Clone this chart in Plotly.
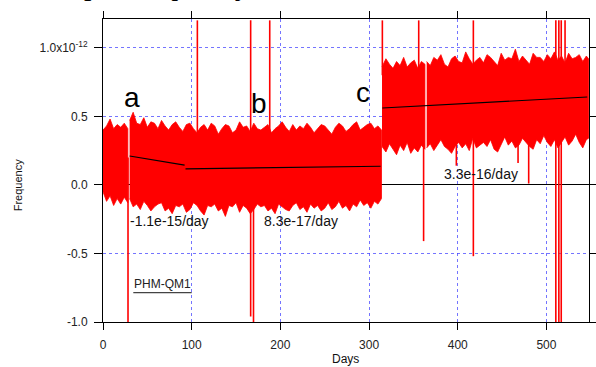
import plotly.graph_objects as go

SCALE = 1e-12  # all frequency values below are in units of 1e-12

# ---- noise band envelopes, split where data has gaps ----
A_days = [0, 4, 8, 12, 16, 20, 24, 28]
A_hi = [0.40, 0.43, 0.48, 0.41, 0.44, 0.42, 0.45, 0.41]
A_lo = [-0.05, -0.12, -0.08, -0.15, -0.10, -0.14, -0.09, -0.13]

B_days = [30, 34, 38, 42, 46, 50, 54, 58, 62, 66, 70, 74, 78, 82, 86, 90, 94, 98,
          102, 106, 110, 114, 118, 122, 126, 130, 134, 138, 142, 146, 150, 154, 158, 162,
          166, 170, 174, 178, 182, 186, 190, 194, 198, 202, 206, 210, 214, 218, 222, 226,
          230, 234, 238, 242, 246, 250, 254, 258, 262, 266, 270, 274, 278, 282, 286, 290,
          294, 298, 302, 306, 310, 314]
B_hi = [0.47, 0.53, 0.45, 0.44, 0.49, 0.42, 0.46, 0.45,
        0.41, 0.47, 0.43, 0.40, 0.44, 0.46, 0.42, 0.39,
        0.44, 0.45, 0.41, 0.38, 0.42, 0.44, 0.40, 0.45,
        0.43, 0.37, 0.41, 0.44, 0.43, 0.38, 0.40, 0.46,
        0.42, 0.43, 0.39, 0.45, 0.41, 0.40, 0.42, 0.44,
        0.38, 0.41, 0.43, 0.46, 0.42, 0.39, 0.44, 0.40,
        0.43, 0.41, 0.45, 0.42, 0.38, 0.41, 0.44, 0.43,
        0.40, 0.37, 0.42, 0.45, 0.43, 0.39, 0.41, 0.44,
        0.46, 0.40, 0.42, 0.44, 0.45, 0.41, 0.43, 0.40]
B_lo = [-0.10, -0.16, -0.14, -0.18, -0.12, -0.15, -0.19, -0.16,
        -0.14, -0.13, -0.19, -0.17, -0.21, -0.15, -0.16, -0.14,
        -0.20, -0.18, -0.13, -0.15, -0.19, -0.22, -0.15, -0.16,
        -0.14, -0.19, -0.17, -0.23, -0.15, -0.16, -0.13, -0.20,
        -0.15, -0.17, -0.21, -0.18, -0.14, -0.16, -0.15, -0.19,
        -0.17, -0.21, -0.14, -0.16, -0.18, -0.19, -0.15, -0.13,
        -0.18, -0.16, -0.20, -0.14, -0.17, -0.15, -0.19, -0.17,
        -0.13, -0.18, -0.16, -0.12, -0.17, -0.15, -0.19, -0.14,
        -0.16, -0.11, -0.15, -0.13, -0.17, -0.12, -0.14, -0.10]

C_days = [314.6, 319, 323, 327, 331, 335, 339, 343, 347, 351, 355, 359, 363]
C_hi = [0.86, 0.92, 0.88, 0.85, 0.90, 0.87, 0.93, 0.86, 0.89, 0.91, 0.85, 0.90, 0.88]
C_lo = [0.28, 0.24, 0.30, 0.26, 0.22, 0.29, 0.25, 0.31, 0.23, 0.27, 0.24, 0.29, 0.26]

D_days = [365, 369, 373, 377, 381, 385, 389, 393, 397, 401, 405, 409, 413, 417, 421, 425,
          429, 433, 437, 441, 445, 449, 453, 457, 461, 465, 469, 473, 477, 481, 485, 489,
          493, 497, 501, 505, 509, 513, 517, 521, 525, 529, 533, 537, 541, 545, 547.5]
D_hi = [0.90, 0.87, 0.93, 0.91, 0.95, 0.88, 0.86, 0.92,
        0.94, 0.90, 0.89, 0.97, 0.92, 0.88, 0.91, 0.93,
        0.89, 0.95, 0.93, 0.90, 0.87, 0.96, 0.91, 0.93,
        0.92, 0.99, 0.90, 0.94, 0.91, 0.88, 0.96, 0.93,
        0.93, 0.90, 0.95, 0.92, 0.97, 0.91, 0.94, 0.89,
        0.96, 0.92, 0.93, 0.95, 0.90, 0.94, 0.92]
D_lo = [0.27, 0.30, 0.25, 0.29, 0.33, 0.28, 0.26, 0.23,
        0.28, 0.31, 0.27, 0.30, 0.25, 0.34, 0.27, 0.29,
        0.31, 0.28, 0.33, 0.26, 0.24, 0.30, 0.35, 0.29,
        0.32, 0.27, 0.29, 0.34, 0.31, 0.28, 0.26, 0.33,
        0.30, 0.36, 0.31, 0.28, 0.33, 0.27, 0.31, 0.35,
        0.29, 0.32, 0.37, 0.31, 0.27, 0.33, 0.34]

# ---- isolated spikes (outliers) ----
spike_days = [28.2, 106.4, 166.5, 169.7, 188.0, 315.0, 356.0, 361.5,
              398.4, 417.6, 468.0, 480.0, 510.6, 514.0, 516.7, 521.0]
spike_top = [0.20, 1.20, 1.20, 0.00, 1.20, 1.20, 1.20, 0.30,
             0.30, 1.20, 0.30, 0.30, 1.20, 1.20, 1.20, 1.20]
spike_bot = [-1.00, 0.30, -0.96, -1.00, 0.30, 0.80, 0.80, -0.41,
             0.14, -0.52, 0.16, 0.01, -1.00, -1.00, -1.00, 0.40]

# ---- drift fits ----
trend_a_days = [30, 92]
trend_a_vals = [0.211, 0.144]
trend_b_days = [93, 313]
trend_b_vals = [0.117, 0.136]
trend_c_days = [315, 546]
trend_c_vals = [0.561, 0.641]

# ---- axes ----
x_ticks = [0, 100, 200, 300, 400, 500]
y_ticks = [-1.0, -0.5, 0.0, 0.5, 1.0]
y_tick_text = ["-1.0", "-0.5", "0.0", "0.5", "1.0x10<sup>-12</sup>"]

RED = "rgb(255,0,0)"
GRID = "rgba(70,70,255,0.75)"
FONT = "Liberation Sans, Arial, Helvetica, sans-serif"
W, H = 596, 367

fig = go.Figure()

def add_band(days, hi, lo):
    x = list(days) + list(days)[::-1]
    y = [v * SCALE for v in hi] + [v * SCALE for v in lo][::-1]
    fig.add_trace(go.Scatter(x=x, y=y, mode="lines", fill="toself", fillcolor=RED,
                             line=dict(color=RED, width=0.8), hoverinfo="skip",
                             showlegend=False))

add_band(A_days, A_hi, A_lo)
add_band(B_days, B_hi, B_lo)
add_band(C_days, C_hi, C_lo)
add_band(D_days, D_hi, D_lo)

sx, sy = [], []
for d, t, b in zip(spike_days, spike_top, spike_bot):
    sx += [d, d, None]
    sy += [t * SCALE, b * SCALE, None]
fig.add_trace(go.Scatter(x=sx, y=sy, mode="lines", line=dict(color=RED, width=1.6),
                         hoverinfo="skip", showlegend=False))

for dd, vv in [(trend_a_days, trend_a_vals), (trend_b_days, trend_b_vals),
               (trend_c_days, trend_c_vals)]:
    fig.add_trace(go.Scatter(x=dd, y=[v * SCALE for v in vv], mode="lines",
                             line=dict(color="black", width=1.2),
                             hoverinfo="skip", showlegend=False))

# pixel helpers for layout-positioned text (plot area 103..589 x 19..322)
PX0, PX1, PY0, PY1 = 103.0, 589.0, 19.0, 322.0
def pxx(px):
    return (px - PX0) / (PX1 - PX0)
def pxy(py):
    return (PY1 - py) / (PY1 - PY0)

annotations = []
for txt, d, v in [("a", 32.4, 0.635), ("b", 175.5, 0.596), ("c", 292.7, 0.672)]:
    annotations.append(dict(x=d, y=v * SCALE, xref="x", yref="y", text=txt, showarrow=False,
                            font=dict(family=FONT, size=28, color="black"),
                            xanchor="center", yanchor="middle"))
for txt, d, v in [("-1.1e-15/day", 74.7, -0.265), ("8.3e-17/day", 223.2, -0.265),
                  ("3.3e-16/day", 425.8, 0.078)]:
    annotations.append(dict(x=d, y=v * SCALE, xref="x", yref="y", text=txt, showarrow=False,
                            font=dict(family=FONT, size=14, color="#111"),
                            xanchor="center", yanchor="middle"))
annotations.append(dict(x=pxx(162.8), y=pxy(284.0), xref="paper", yref="paper",
                        text="PHM-QM1", showarrow=False,
                        font=dict(family=FONT, size=12, color="#222"),
                        xanchor="center", yanchor="middle"))
annotations.append(dict(x=pxx(18.3), y=pxy(185), xref="paper", yref="paper",
                        text="Frequency", textangle=-90, showarrow=False,
                        font=dict(family=FONT, size=11, color="#111"),
                        xanchor="center", yanchor="middle"))
annotations.append(dict(x=pxx(345.7), y=pxy(359), xref="paper", yref="paper",
                        text="Days", showarrow=False,
                        font=dict(family=FONT, size=12, color="#111"),
                        xanchor="center", yanchor="middle"))
# cropped line of text above the figure (only descenders visible)
annotations.append(dict(x=pxx(37), y=pxy(-15), xref="paper", yref="paper",
                        text="Output frequency", showarrow=False,
                        font=dict(family="Liberation Serif, Times New Roman, serif", size=30,
                                  color="black"),
                        xanchor="left", yanchor="middle"))

shapes = [dict(type="line", xref="paper", yref="paper", x0=pxx(133.3), x1=pxx(191.7),
               y0=pxy(292.7), y1=pxy(292.7), line=dict(color="#444", width=1.2))]

fig.update_layout(
    width=W, height=H, autosize=False,
    margin=dict(l=103, r=7, t=19, b=45, pad=0, autoexpand=False),
    paper_bgcolor="white", plot_bgcolor="white",
    annotations=annotations, shapes=shapes,
    showlegend=False,
    font=dict(family=FONT, size=12, color="#222"),
)
fig.update_xaxes(range=[0, 548], tickvals=x_ticks, ticks="outside", ticklen=7,
                 tickwidth=1, tickcolor="black", showline=True, linecolor="black",
                 linewidth=1, mirror="ticks", showgrid=True, gridcolor=GRID,
                 griddash="dot", gridwidth=1, zeroline=False, automargin=False,
                 tickfont=dict(family=FONT, size=12, color="#222"),
                 ticklabelstandoff=5)
fig.update_yaxes(range=[-1.0 * SCALE, 1.21 * SCALE], tickvals=[v * SCALE for v in y_ticks],
                 ticktext=y_tick_text, ticks="outside", ticklen=8, tickwidth=1,
                 tickcolor="black", showline=True, linecolor="black", linewidth=1,
                 mirror="ticks", showgrid=True, gridcolor=GRID, griddash="dot",
                 gridwidth=1, zeroline=True, zerolinecolor="black", zerolinewidth=1,
                 automargin=False,
                 tickfont=dict(family=FONT, size=12, color="#222"),
                 ticklabelstandoff=4)

# remove the page's default body margin so the figure sits at the window's corner
POST = ("document.body.style.margin='0';document.body.style.overflow='hidden';"
        "var gd=document.getElementById('{plot_id}');"
        "Plotly.relayout(gd,{width:%d,height:%d});" % (W, H))

fig.write_html("out.html", config={"responsive": False, "displayModeBar": False},
               post_script=POST)
